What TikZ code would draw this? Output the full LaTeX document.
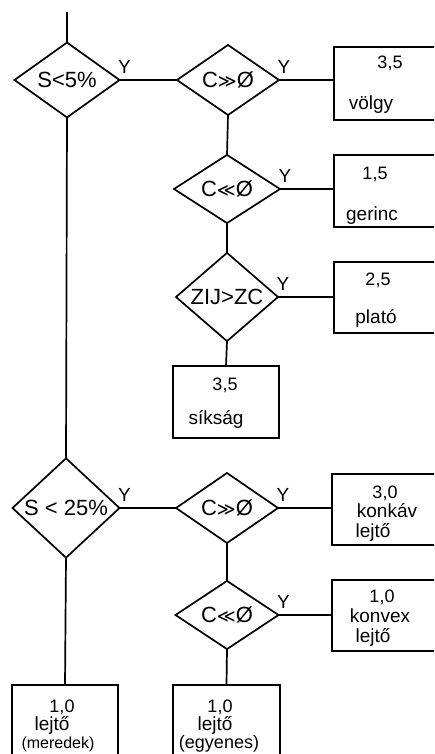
\documentclass[tikz,border=0pt]{standalone}
\usepackage{fontspec}
\setmainfont{Liberation Sans}
\newfontfamily\symfont{DejaVu Sans}
\usetikzlibrary{shapes.geometric,calc}

\begin{document}
\begin{tikzpicture}[x=1pt,y=-1pt,
  lw/.style={line width=1.7pt},
  test/.style={lw, draw, shape=diamond, inner sep=0pt, outer sep=0pt,
    minimum width=104pt, minimum height=70pt,
    font=\fontsize{22}{24}\selectfont},
  outcome/.style={lw, draw, rectangle, inner sep=0pt, outer sep=0pt},
  ylab/.style={font=\fontsize{19}{21}\selectfont, inner sep=0pt},
  num/.style={font=\fontsize{18}{20}\selectfont, anchor=base, inner sep=0pt},
  word/.style={font=\fontsize{19}{21}\selectfont, anchor=base, inner sep=0pt},
  flow/.style={lw}
]
\newcommand{\muchgt}{{\symfont\fontsize{18}{20}\selectfont ≫}}
\newcommand{\muchlt}{{\symfont\fontsize{18}{20}\selectfont ≪}}
\useasboundingbox (0,0) rectangle (434,754);
\clip (0,0) rectangle (434,754);

% decisions
\node[test, minimum width=105pt, minimum height=69pt] (d1) at (67,80) {S<5\%};
\node[test, minimum width=102pt] (d2) at (228,80) {C\muchgt Ø};
\node[test, minimum width=106pt, minimum height=68pt] (d3) at (227,189) {C\muchlt Ø};
\node[test, minimum width=102pt] (d4) at (227,297) {ZIJ>ZC};
\node[test, minimum width=107pt, minimum height=73pt] (d5) at (66,508) {S < 25\%};
\node[test, minimum width=102pt] (d6) at (227,508) {C\muchgt Ø};
\node[test, minimum width=103pt, minimum height=66pt] (d7) at (227,615) {C\muchlt Ø};

% "yes" labels
\foreach \d in {d1,d2,d3,d4,d5,d6,d7}
  \node[ylab] (y\d) at ($(\d.east)+(5,-13)$) {Y};

% outcome boxes
\node[outcome, minimum width=130pt, minimum height=73pt] (b1) at (399,83.5) {};
\node[outcome, minimum width=130pt, minimum height=72pt] (b2) at (399,191) {};
\node[outcome, minimum width=130pt, minimum height=71pt] (b3) at (399,297.5) {};
\node[outcome, minimum width=106pt, minimum height=72pt] (b4) at (226,402) {};
\node[outcome, minimum width=130pt, minimum height=71pt] (b5) at (397,509.5) {};
\node[outcome, minimum width=130pt, minimum height=71pt] (b6) at (397,615.5) {};
\node[outcome, minimum width=107pt, minimum height=110pt] (b7) at (226.5,740) {};
\node[outcome, minimum width=106pt, minimum height=110pt] (b8) at (65,740) {};

% box texts
\node[num]  (t1a) at (390,69)  {3,5};
\node[word] (t1b) at (371,110) {völgy};
\node[num]  (t2a) at (375,179) {1,5};
\node[word] (t2b) at (372,220) {gerinc};
\node[num]  (t3a) at (378,285) {2,5};
\node[word] (t3b) at (376,323) {plató};
\node[num]  (t4a) at (225,390) {3,5};
\node[word] (t4b) at (216,424) {síkság};
\node[num]  (t5a) at (385,498) {3,0};
\node[word] (t5b) at (387,517) {konkáv};
\node[word] (t5c) at (373,537) {lejtő};
\node[num]  (t6a) at (382,602) {1,0};
\node[word] (t6b) at (380,622) {konvex};
\node[word] (t6c) at (373,642) {lejtő};
\node[num]  (t7a) at (220,712) {1,0};
\node[word] (t7b) at (215,730) {lejtő};
\node[word, font=\fontsize{18}{20}\selectfont] (t7c) at (219,748) {(egyenes)};
\node[num]  (t8a) at (62,712)  {1,0};
\node[word] (t8b) at (52,730)  {lejtő};
\node[word, font=\fontsize{16}{18}\selectfont] (t8c) at (58,748) {(meredek)};

% connectors
\coordinate (start) at (67,12);
\draw[flow] (start) -- (d1.north);
\draw[flow] (d1.east) -- (d2.west);
\draw[flow] (d2.east) -- (d2.east -| b1.west);
\draw[flow] (d2.south) -- (d3.north);
\draw[flow] (d3.east) -- (d3.east -| b2.west);
\draw[flow] (d3.south) -- (d4.north);
\draw[flow] (d4.east) -- (d4.east -| b3.west);
\draw[flow] (d4.south) -- (b4.north);
\draw[flow] (d1.south) -- (d5.north);
\draw[flow] (d5.east) -- (d6.west);
\draw[flow] (d6.east) -- (d6.east -| b5.west);
\draw[flow] (d6.south) -- (d7.north);
\draw[flow] (d7.east) -- (d7.east -| b6.west);
\draw[flow] (d7.south) -- (b7.north);
\draw[flow] (d5.south) -- (b8.north);
\end{tikzpicture}
\end{document}
